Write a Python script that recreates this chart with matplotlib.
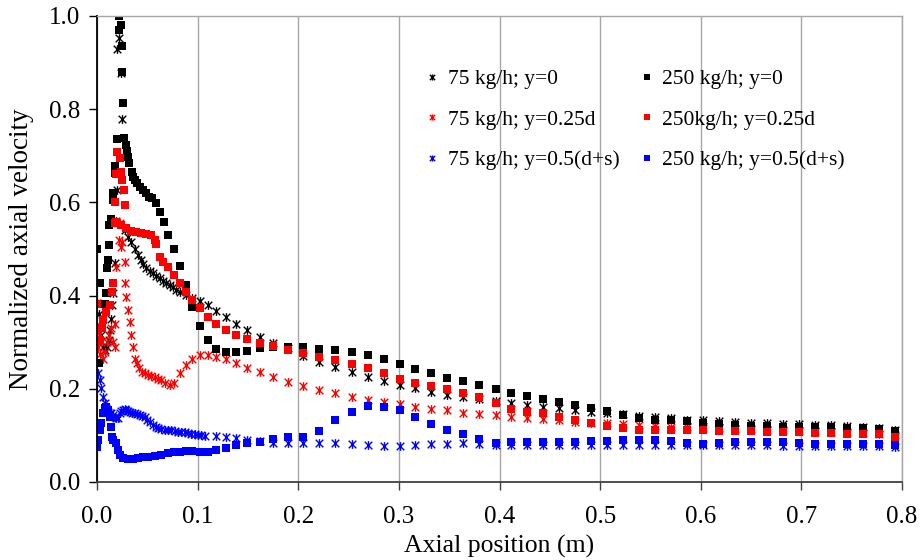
import matplotlib
matplotlib.use("Agg")
import matplotlib.pyplot as plt
from matplotlib.path import Path
from matplotlib.ticker import FixedLocator, FormatStrFormatter

plt.rcParams['font.family'] = ['Liberation Serif', 'DejaVu Serif']

# Common axial stations of the downstream mesh (m)
x_far = [0.0765, 0.0825, 0.0885, 0.0944, 0.1024, 0.1103, 0.1183, 0.1282, 0.1382, 0.1494,
         0.1620, 0.1753, 0.1902, 0.2051, 0.2210, 0.2366, 0.2532, 0.2691, 0.2850, 0.3009,
         0.3164, 0.3323, 0.3482, 0.3641, 0.3800, 0.3963, 0.4115, 0.4271, 0.4430, 0.4592,
         0.4751, 0.4911, 0.5070, 0.5226, 0.5385, 0.5544, 0.5703, 0.5862, 0.6021, 0.6180,
         0.6339, 0.6498, 0.6657, 0.6816, 0.6975, 0.7134, 0.7294, 0.7453, 0.7612, 0.7770,
         0.7929]

# 75 kg/h, y = 0
x75_y0_near = [0.000, 0.002, 0.003, 0.004, 0.006, 0.008, 0.010, 0.012, 0.013, 0.014,
               0.015, 0.016, 0.0175, 0.0185, 0.0197, 0.0203, 0.0220, 0.0237, 0.0245, 0.0280,
               0.0308, 0.0341, 0.0375, 0.0408, 0.0435, 0.0457, 0.0490, 0.0524, 0.0557, 0.0590,
               0.0623, 0.0656, 0.0689, 0.0723, 0.0755, 0.0788]
v75_y0_near = [0.385, 0.360, 0.335, 0.315, 0.290, 0.283, 0.290, 0.305, 0.326, 0.350,
               0.380, 0.405, 0.470, 0.560, 0.627, 0.930, 0.952, 0.877, 0.780, 0.541,
               0.526, 0.516, 0.501, 0.487, 0.476, 0.467, 0.459, 0.453, 0.448, 0.443,
               0.437, 0.431, 0.426, 0.423, 0.418, 0.412]
v75_y0_far = [0.408, 0.401, 0.395, 0.389, 0.379, 0.368, 0.355, 0.340, 0.326, 0.312,
              0.298, 0.287, 0.270, 0.257, 0.246, 0.235, 0.226, 0.217, 0.208, 0.201,
              0.194, 0.187, 0.182, 0.178, 0.174, 0.169, 0.165, 0.162, 0.158, 0.154,
              0.151, 0.148, 0.145, 0.142, 0.139, 0.137, 0.134, 0.132, 0.130, 0.128,
              0.127, 0.126, 0.125, 0.124, 0.123, 0.122, 0.120, 0.118, 0.115, 0.111]

# 75 kg/h, y = 0.25d
x75_y25_near = [0.001, 0.002, 0.003, 0.004, 0.006, 0.008, 0.010, 0.012, 0.014, 0.016,
                0.0175, 0.018, 0.0192, 0.0217, 0.0225, 0.0240, 0.0250, 0.0275, 0.0278, 0.0293,
                0.0309, 0.0326, 0.0336, 0.0358, 0.0375, 0.0398, 0.0413, 0.0447, 0.0480, 0.0507,
                0.0540, 0.0574, 0.0607, 0.0640, 0.0680, 0.0723, 0.0766, 0.0822, 0.0888, 0.0944]
v75_y25_near = [0.290, 0.320, 0.275, 0.300, 0.265, 0.280, 0.300, 0.315, 0.330, 0.300,
                0.290, 0.340, 0.462, 0.519, 0.555, 0.505, 0.516, 0.473, 0.426, 0.398,
                0.369, 0.343, 0.315, 0.290, 0.265, 0.255, 0.244, 0.237, 0.233, 0.230,
                0.227, 0.225, 0.222, 0.219, 0.213, 0.208, 0.212, 0.233, 0.251, 0.265]
v75_y25_far = [0.272, 0.272, 0.269, 0.263, 0.255, 0.245, 0.235, 0.226, 0.215, 0.207,
               0.197, 0.190, 0.183, 0.177, 0.172, 0.167, 0.162, 0.157, 0.155, 0.149,
               0.146, 0.143, 0.140, 0.138, 0.135, 0.132, 0.129, 0.127, 0.126, 0.124,
               0.122, 0.120, 0.118, 0.117, 0.116, 0.115, 0.114, 0.113, 0.112, 0.111,
               0.110, 0.109, 0.108, 0.107, 0.106, 0.104, 0.101]

# 75 kg/h, y = 0.5(d+s)
x75_y50_near = [0.001, 0.0027, 0.0043, 0.006, 0.0077, 0.0092, 0.0109, 0.0125, 0.0142, 0.0160,
                0.0176, 0.0192, 0.0209, 0.0226, 0.0242, 0.0258, 0.0275, 0.0291, 0.0308, 0.0325,
                0.0350, 0.0375, 0.0400, 0.0424, 0.0450, 0.0474, 0.0500, 0.0524, 0.0557, 0.0590,
                0.0606, 0.0640, 0.0673, 0.0706, 0.0739, 0.0772, 0.0805, 0.0839, 0.0872, 0.0905,
                0.0937, 0.0970, 0.1004, 0.1037, 0.1071]
v75_y50_near = [0.233, 0.219, 0.201, 0.183, 0.169, 0.158, 0.151, 0.149, 0.147, 0.143,
                0.140, 0.138, 0.137, 0.147, 0.152, 0.155, 0.156, 0.155, 0.153, 0.151,
                0.149, 0.147, 0.146, 0.144, 0.142, 0.139, 0.134, 0.129, 0.122, 0.117,
                0.115, 0.113, 0.112, 0.112, 0.112, 0.110, 0.108, 0.108, 0.108, 0.106,
                0.104, 0.102, 0.101, 0.100, 0.099]
v75_y50_far = [0.099, 0.097, 0.094, 0.090, 0.087, 0.084, 0.083, 0.083, 0.084, 0.083,
               0.082, 0.079, 0.078, 0.078, 0.079, 0.081, 0.081, 0.083, 0.082, 0.080,
               0.079, 0.079, 0.080, 0.080, 0.080, 0.080, 0.080, 0.080, 0.080, 0.080,
               0.080, 0.080, 0.079, 0.079, 0.079, 0.079, 0.079, 0.078, 0.078, 0.078,
               0.078, 0.078, 0.077, 0.077, 0.076]

# 250 kg/h, y = 0
x250_y0_near = [0.000, 0.0025, 0.002, 0.008, 0.009, 0.010, 0.011, 0.012, 0.0123, 0.014,
                0.0155, 0.016, 0.0175, 0.018, 0.0200, 0.0218, 0.0235, 0.0222, 0.0245, 0.0250,
                0.0260, 0.0270, 0.0285, 0.0296, 0.0312, 0.0322, 0.0345, 0.0361, 0.0378, 0.0401,
                0.0427, 0.0460, 0.0487, 0.0517, 0.0544, 0.0587, 0.0626, 0.0663, 0.0709]
v250_y0_near = [0.500, 0.426, 0.255, 0.383, 0.405, 0.460, 0.476, 0.508, 0.551, 0.564,
                0.605, 0.620, 0.664, 0.679, 0.735, 1.000, 0.980, 0.971, 0.936, 0.880,
                0.813, 0.739, 0.723, 0.711, 0.698, 0.684, 0.666, 0.655, 0.648, 0.641,
                0.634, 0.627, 0.621, 0.612, 0.609, 0.598, 0.580, 0.557, 0.530]
v250_y0_far = [0.501, 0.464, 0.422, 0.376, 0.335, 0.304, 0.286, 0.280, 0.279, 0.282,
               0.287, 0.290, 0.290, 0.290, 0.286, 0.283, 0.279, 0.273, 0.265, 0.253,
               0.242, 0.233, 0.224, 0.216, 0.208, 0.200, 0.192, 0.185, 0.178, 0.172,
               0.166, 0.159, 0.152, 0.144, 0.138, 0.134, 0.132, 0.130, 0.127, 0.125,
               0.123, 0.121, 0.120, 0.118, 0.118, 0.117, 0.117, 0.116, 0.115, 0.113,
               0.109]

# 250 kg/h, y = 0.25d
x250_y25_near = [0.000, 0.001, 0.003, 0.0045, 0.006, 0.009, 0.0125, 0.015, 0.016, 0.0175,
                 0.018, 0.019, 0.020, 0.0225, 0.0235, 0.0245, 0.0265, 0.0280, 0.0192, 0.0241,
                 0.0291, 0.0341, 0.0391, 0.0441, 0.0490, 0.0540, 0.0574, 0.0590, 0.0626, 0.0660,
                 0.0709]
v250_y25_near = [0.383, 0.326, 0.305, 0.330, 0.348, 0.365, 0.380, 0.408, 0.426, 0.555,
                 0.600, 0.662, 0.709, 0.695, 0.666, 0.648, 0.627, 0.594, 0.559, 0.551,
                 0.544, 0.539, 0.536, 0.534, 0.532, 0.529, 0.519, 0.510, 0.483, 0.473,
                 0.462]
v250_y25_far = [0.444, 0.426, 0.408, 0.390, 0.373, 0.355, 0.339, 0.326, 0.315, 0.306,
                0.299, 0.292, 0.283, 0.276, 0.269, 0.262, 0.253, 0.244, 0.233, 0.222,
                0.213, 0.205, 0.199, 0.192, 0.182, 0.170, 0.157, 0.151, 0.147, 0.140,
                0.133, 0.126, 0.121, 0.115, 0.112, 0.112, 0.112, 0.112, 0.111, 0.110,
                0.110, 0.109, 0.108, 0.108, 0.107, 0.106, 0.105, 0.104, 0.103, 0.102,
                0.097]

# 250 kg/h, y = 0.5(d+s)
x250_y50_near = [0.000, 0.001, 0.0027, 0.0043, 0.006, 0.0077, 0.0092, 0.0109, 0.0126, 0.0135,
                 0.0145, 0.0159, 0.0192, 0.0209, 0.0226, 0.0258, 0.0308, 0.0358, 0.0408, 0.0457,
                 0.0507, 0.0574, 0.0639, 0.0706]
v250_y50_near = [0.076, 0.090, 0.112, 0.126, 0.147, 0.158, 0.162, 0.155, 0.140, 0.119,
                 0.097, 0.090, 0.083, 0.069, 0.058, 0.051, 0.049, 0.049, 0.051, 0.053,
                 0.054, 0.056, 0.059, 0.062]
v250_y50_far = [0.064, 0.065, 0.067, 0.067, 0.065, 0.065, 0.069, 0.074, 0.079, 0.084,
                0.086, 0.092, 0.096, 0.096, 0.110, 0.132, 0.151, 0.163, 0.162, 0.155,
                0.140, 0.124, 0.112, 0.104, 0.092, 0.084, 0.086, 0.086, 0.086, 0.086,
                0.086, 0.087, 0.089, 0.090, 0.091, 0.091, 0.088, 0.084, 0.082, 0.083,
                0.085, 0.086, 0.086, 0.085, 0.084, 0.082, 0.082, 0.082, 0.082, 0.081,
                0.079]

x_ticks = [0.0, 0.1, 0.2, 0.3, 0.4, 0.5, 0.6, 0.7, 0.8]
y_ticks = [0.0, 0.2, 0.4, 0.6, 0.8, 1.0]

# Star marker: an "x" crossed by a vertical stroke
star = Path([(-1, -1), (1, 1), (-1, 1), (1, -1), (0, -1.15), (0, 1.15)],
            [Path.MOVETO, Path.LINETO] * 3)

series = [
    ("75 kg/h; y=0", x75_y0_near, v75_y0_near, v75_y0_far, "black", star),
    ("75 kg/h; y=0.25d", x75_y25_near, v75_y25_near, v75_y25_far, "#ff0000", star),
    ("75 kg/h; y=0.5(d+s)", x75_y50_near, v75_y50_near, v75_y50_far, "#0000ff", star),
    ("250 kg/h; y=0", x250_y0_near, v250_y0_near, v250_y0_far, "black", "s"),
    ("250kg/h; y=0.25d", x250_y25_near, v250_y25_near, v250_y25_far, "#ff0000", "s"),
    ("250 kg/h; y=0.5(d+s)", x250_y50_near, v250_y50_near, v250_y50_far, "#0000ff", "s"),
]

fig = plt.figure(figsize=(9.22, 5.6), dpi=100)
ax = fig.add_axes([97 / 922, 1 - 482 / 560, 805 / 922, 466 / 560])

handles = []
for label, xn, vn, vf, color, marker in series:
    xs = list(xn) + x_far[len(x_far) - len(vf):]
    ys = list(vn) + list(vf)
    if marker == "s":
        h, = ax.plot(xs, ys, linestyle="none", marker="s", markersize=5.2,
                     color=color, markeredgewidth=0, label=label)
    else:
        h, = ax.plot(xs, ys, linestyle="none", marker=star, markersize=6.3,
                     color=color, markeredgewidth=1.0, markerfacecolor="none",
                     label=label)
    handles.append(h)

ax.set_xlim(0, 0.8)
ax.set_ylim(0, 1.0)
ax.xaxis.set_major_locator(FixedLocator(x_ticks))
ax.yaxis.set_major_locator(FixedLocator(y_ticks))
ax.xaxis.set_major_formatter(FormatStrFormatter("%.1f"))
ax.yaxis.set_major_formatter(FormatStrFormatter("%.1f"))

ax.grid(axis="x", color="#a6a6a6", linewidth=1.0)
ax.set_axisbelow(True)
for side in ("top", "right"):
    ax.spines[side].set_color("#a6a6a6")
    ax.spines[side].set_linewidth(1.0)
ax.spines["left"].set_color("black")
ax.spines["left"].set_linewidth(1.3)
ax.spines["bottom"].set_color("#404040")
ax.spines["bottom"].set_linewidth(1.3)

ax.tick_params(axis="both", direction="out", length=6, width=1.0,
               labelsize=18, colors="black", pad=6)
ax.tick_params(axis="x", color="#404040", pad=11)

ax.set_xlabel("Axial position (m)", fontsize=18.5, labelpad=5)
ax.set_ylabel("Normalized axial velocity", fontsize=19.5, labelpad=11)

leg = ax.legend(handles=handles, ncol=2, loc="upper left",
                bbox_to_anchor=(0.398, 0.904), frameon=False, fontsize=15.5,
                handlelength=0.6, handletextpad=0.4, columnspacing=1.0,
                labelspacing=0.95, markerscale=0.7, borderaxespad=0)

fig.savefig("out.png", dpi=100)
